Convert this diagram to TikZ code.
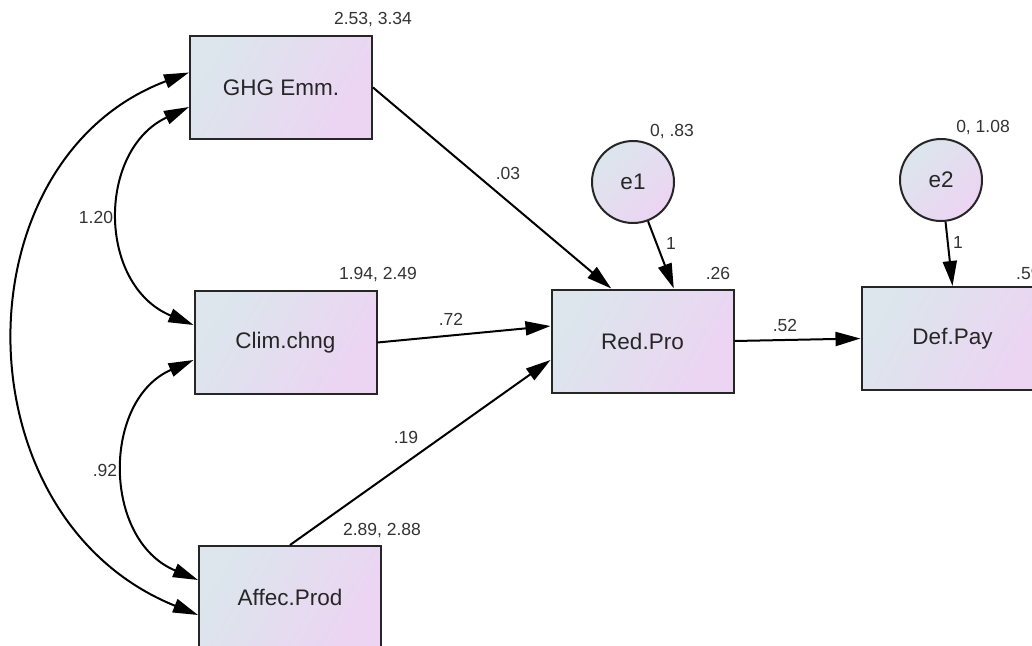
\documentclass[tikz,border=0pt]{standalone}
\usepackage{fontspec}
\setmainfont{Liberation Sans}
\usetikzlibrary{arrows.meta,calc}
\definecolor{cA}{RGB}{220,230,236}
\definecolor{cB}{RGB}{236,212,243}
\begin{document}
\begin{tikzpicture}[x=1pt,y=-1pt,
 box/.style={draw=black!85, line width=2pt, rectangle, minimum width=182pt, minimum height=103pt, inner sep=0pt, left color=cA, right color=cB, shading angle=60, text=black!85, font=\fontsize{22.5}{26}\selectfont},
 err/.style={draw=black!85, circle, line width=2pt, minimum size=82pt, inner sep=0pt, left color=cA, right color=cB, shading angle=45, text=black!85, font=\fontsize{22.5}{26}\selectfont},
 lab/.style={font=\fontsize{17.5}{20}\selectfont, text=black!80, inner sep=0pt},
 arr/.style={line width=2pt, -{Triangle[length=25pt,width=14pt]}},
 darr/.style={line width=2pt, {Triangle[length=25pt,width=14pt]}-{Triangle[length=25pt,width=14pt]}}]
\useasboundingbox (0,0) rectangle (1032,645);
\clip (0,0) rectangle (1032,645);
\fill[white] (0,0) rectangle (1032,645);

% nodes
\node[box] (ghg) at (281,87.5) {GHG Emm.};
\node[box] (clim) at (285.5,342.5) {Clim.chng};
\node[box] (affec) at (290,597.5) {Affec.Prod};
\node[box] (red) at (642.5,341) {Red.Pro};
\node[box] (def) at (952.5,338.5) {Def.Pay};
\node[err] (e1) at (633,182) {e1};
\node[err] (e2) at (941,180) {e2};

% attach points
\coordinate (redTopA) at ($(red.north west)!0.33!(red.north east)$);
\coordinate (redTopB) at ($(red.north west)!0.67!(red.north east)$);
\coordinate (redLeftA) at ($(red.west)+(0,-15)$);
\coordinate (redLeftB) at ($(red.west)+(0,19)$);
\coordinate (ghgA) at ($(ghg.west)+(0,-15)$);
\coordinate (ghgB) at ($(ghg.west)+(0,19.5)$);
\coordinate (climA) at ($(clim.west)+(0,-17.5)$);
\coordinate (climB) at ($(clim.west)+(0,17.5)$);
\coordinate (affecA) at ($(affec.west)+(0,-17.5)$);
\coordinate (affecB) at ($(affec.west)+(0,17.5)$);

% directed paths
\draw[arr] (ghg.east) -- (redTopA);
\draw[arr] (clim.east) -- (redLeftA);
\draw[arr] (affec.north) -- (redLeftB);
\draw[arr] (red.east) -- (def.west);
\draw[arr] (e1) -- (redTopB);
\draw[arr] (e2) -- (def.north);

% covariances
\draw[darr] (ghgB) .. controls (97,150) and (97,285) .. (climA);
\draw[darr] (climB) .. controls (102,400) and (102,540) .. (affecA);
\draw[darr] (ghgA) .. controls (-43,160) and (-43,518) .. (affecB);

% labels
\node[lab] (l1) at (373,20) {2.53, 3.34};
\node[lab] (l2) at (378,275) {1.94, 2.49};
\node[lab] (l3) at (382,531) {2.89, 2.88};
\node[lab] (l4) at (672,132) {0, .83};
\node[lab] (l5) at (983,128) {0, 1.08};
\node[lab] (l6) at (718,273) {.26};
\node[lab, anchor=west] (l7) at (1016,273) {.59};
\node[lab] (l8) at (508,173) {.03};
\node[lab] (l9) at (451,319) {.72};
\node[lab] (l10) at (406,437) {.19};
\node[lab] (l11) at (785,325) {.52};
\node[lab] (l12) at (671,243) {1};
\node[lab] (l13) at (958,242) {1};
\node[lab] (l14) at (96,217) {1.20};
\node[lab] (l15) at (105,470) {.92};
\end{tikzpicture}
\end{document}
